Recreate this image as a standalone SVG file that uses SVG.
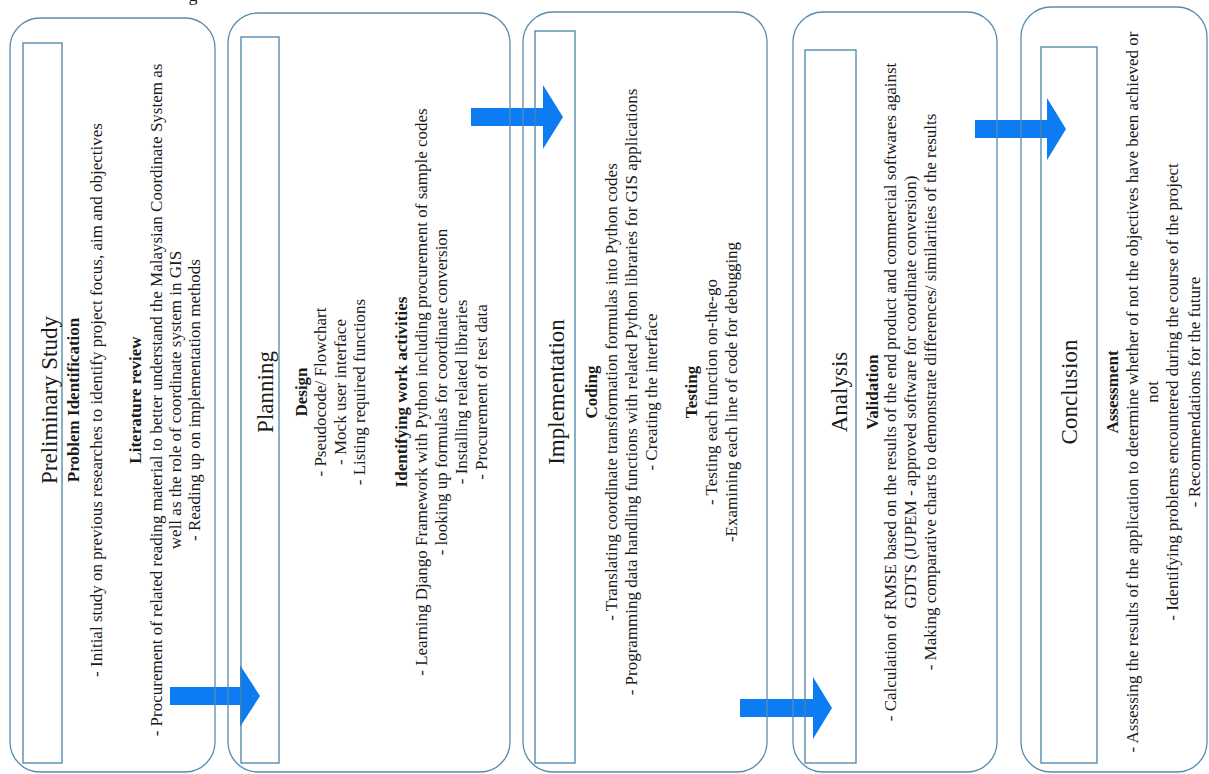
<svg xmlns="http://www.w3.org/2000/svg" width="1209" height="774" viewBox="0 0 1209 774">
<style>
.panel{fill:none;stroke:#5a8cb0;stroke-width:1.3}
.inner{fill:none;stroke:#4a84a8;stroke-width:1.3}
.arrow{fill:#0d7cf2;stroke:none}
text{font-family:"Liberation Serif","Times New Roman",serif;fill:#1a1a1a;text-anchor:middle}
.t{font-size:23px}
.h{font-size:17px;font-weight:bold}
.b{font-size:17px}
</style>
<rect x="0" y="0" width="1209" height="774" fill="#ffffff"/>
<text x="193" y="1" style="font-size:18px">g</text>
<g id="connectors">
<polygon class="arrow" points="170,687 240,687 240,665 260,696 240,727 240,705 170,705"/>
<polygon class="arrow" points="471,108 543,108 543,85 563,117 543,149 543,126 471,126"/>
<polygon class="arrow" points="740,699 813,699 813,677 832,708 813,739 813,717 740,717"/>
<polygon class="arrow" points="975,120 1047,120 1047,98 1066,129 1047,160 1047,138 975,138"/>
</g>
<g id="preliminary-study">
<rect class="panel" x="10" y="18" width="205" height="754" rx="30" ry="30"/>
<rect class="inner" x="23" y="43" width="39" height="720"/>
<g transform="translate(0,400) rotate(-90)">
<text class="t" x="0" y="57">Preliminary Study</text>
<text class="h" x="0" y="79">Problem Identification</text>
<text class="b" x="0" y="102">- Initial study on previous researches to identify project focus, aim and objectives</text>
<text class="h" x="0" y="141">Literature review</text>
<text class="b" x="0" y="162">- Procurement of related reading material to better understand the Malaysian Coordinate System as</text>
<text class="b" x="0" y="181">well as the role of coordinate system in GIS</text>
<text class="b" x="0" y="200">- Reading up on implementation methods</text>
</g>
</g>
<g id="planning">
<rect class="panel" x="228" y="13" width="282" height="759" rx="30" ry="30"/>
<rect class="inner" x="241" y="37" width="38" height="726"/>
<g transform="translate(0,392) rotate(-90)">
<text class="t" x="0" y="273">Planning</text>
<text class="h" x="0" y="307">Design</text>
<text class="b" x="0" y="326">- Pseudocode/ Flowchart</text>
<text class="b" x="0" y="346">- Mock user interface</text>
<text class="b" x="0" y="365">- Listing required functions</text>
<text class="h" x="0" y="407">Identifying work activities</text>
<text class="b" x="0" y="427">- Learning Django Framework with Python including procurement of sample codes</text>
<text class="b" x="0" y="447">- looking up formulas for coordinate conversion</text>
<text class="b" x="0" y="467">- Installing related libraries</text>
<text class="b" x="0" y="487">- Procurement of test data</text>
</g>
</g>
<g id="implementation">
<rect class="panel" x="523" y="12" width="244" height="760" rx="30" ry="30"/>
<rect class="inner" x="535" y="31" width="40" height="732"/>
<g transform="translate(0,392) rotate(-90)">
<text class="t" x="0" y="564">Implementation</text>
<text class="h" x="0" y="597">Coding</text>
<text class="b" x="0" y="617">- Translating coordinate transformation formulas into Python codes</text>
<text class="b" x="0" y="637">- Programming data handling functions with related Python libraries for GIS applications</text>
<text class="b" x="0" y="657">- Creating the interface</text>
<text class="h" x="0" y="697">Testing</text>
<text class="b" x="0" y="717">- Testing each function on-the-go</text>
<text class="b" x="0" y="737">-Examining each line of code for debugging</text>
</g>
</g>
<g id="analysis">
<rect class="panel" x="793" y="12" width="204" height="760" rx="30" ry="30"/>
<rect class="inner" x="805" y="50" width="51" height="713"/>
<g transform="translate(0,392) rotate(-90)">
<text class="t" x="0" y="847">Analysis</text>
<text class="h" x="0" y="878">Validation</text>
<text class="b" x="0" y="896">- Calculation of RMSE based on the results of the end product and commercial softwares against</text>
<text class="b" x="0" y="916">GDTS (JUPEM - approved software for coordinate conversion)</text>
<text class="b" x="0" y="936">- Making comparative charts to demonstrate differences/ similarities of the results</text>
</g>
</g>
<g id="conclusion">
<rect class="panel" x="1021" y="7" width="186" height="765" rx="30" ry="30"/>
<rect class="inner" x="1041" y="47" width="56" height="716"/>
<g transform="translate(0,392) rotate(-90)">
<text class="t" x="0" y="1077">Conclusion</text>
<text class="h" x="0" y="1118">Assessment</text>
<text class="b" x="0" y="1138">- Assessing the results of the application to determine whether of not the objectives have been achieved or</text>
<text class="b" x="0" y="1158">not</text>
<text class="b" x="0" y="1178">- Identifying problems encountered during the course of the project</text>
<text class="b" x="0" y="1200">- Recommendations for the future</text>
</g>
</g>
</svg>
